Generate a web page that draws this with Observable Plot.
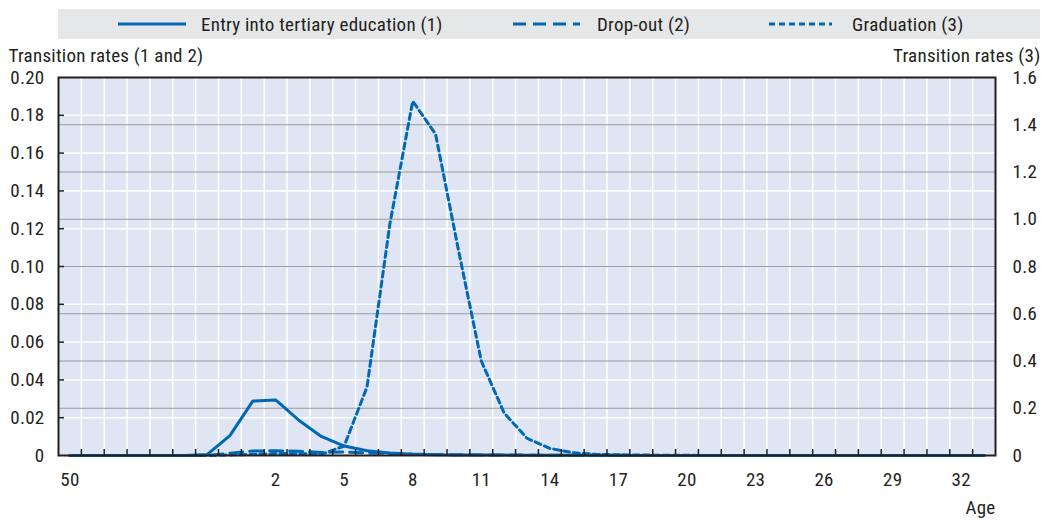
<!DOCTYPE html>
<html>
<head>
<meta charset="utf-8">
<script src="https://cdn.jsdelivr.net/npm/d3@7"></script>
<script src="https://cdn.jsdelivr.net/npm/@observablehq/plot@0.6"></script>
<style>
  body { margin: 0; background: #fff; }
  .font { font-family: "Roboto Condensed", "Liberation Sans Narrow", Roboto, sans-serif; letter-spacing: 0.25px; }
  #legend { position: absolute; left: 58px; top: 9px; width: 982px; height: 30px; background: #e6e7e9; }
  .item { position: absolute; top: 0; height: 30px; display: flex; align-items: center; font-size: 19px; color: #231f20; white-space: nowrap; }
  .swatch { position: absolute; top: 0; }
  #chart { position: absolute; left: 0; top: 40px; }
</style>
</head>
<body>
<div id="legend" class="font"></div>
<div id="chart" class="font"></div>
<script>
// Age categories along the x axis (41 bands); only some carry a label
const tickIndex  = [0, 9, 12, 15, 18, 21, 24, 27, 30, 33, 36, 39];
const tickLabels = ["50", "2", "5", "8", "11", "14", "17", "20", "23", "26", "29", "32"];

// Transition rates, one value per band
const entryRates = [0, 0, 0, 0, 0, 0, 0.0005, 0.0105, 0.0288, 0.0294, 0.0188, 0.0101, 0.005, 0.0025, 0.0013,
  0.0007, 0.0004, 0.0003, 0.0002, 0.0002, 0.0001, 0.0001, 0.0001, 0.0001, 0, 0, 0, 0, 0, 0,
  0, 0, 0, 0, 0, 0, 0, 0, 0, 0, 0];
const dropoutRates = [0, 0, 0, 0, 0, 0, 0, 0.0012, 0.0024, 0.0025, 0.0023, 0.0016, 0.0018, 0.0014, 0.001,
  0.0007, 0.0005, 0.0004, 0.0003, 0.0002, 0.0002, 0.0001, 0.0001, 0.0001, 0.0001, 0, 0, 0, 0, 0,
  0, 0, 0, 0, 0, 0, 0, 0, 0, 0, 0];
const graduationRates = [0, 0, 0, 0, 0, 0, 0, 0.002, 0.005, 0.008, 0.008, 0.005, 0.04, 0.29, 0.98,
  1.50, 1.36, 0.87, 0.40, 0.18, 0.073, 0.03, 0.012, 0.005, 0.003, 0.002, 0.001, 0.001, 0, 0,
  0, 0, 0, 0, 0, 0, 0, 0, 0, 0, 0];

// Axis ticks
const leftTicks  = [0, 0.02, 0.04, 0.06, 0.08, 0.10, 0.12, 0.14, 0.16, 0.18, 0.20];
const rightTicks = [0, 0.2, 0.4, 0.6, 0.8, 1.0, 1.2, 1.4, 1.6];

const BLUE = "#0068b4";
const INK = "#231f20";
const FONT = '"Roboto Condensed", "Liberation Sans Narrow", Roboto, sans-serif';
const RATIO = 0.2 / 1.6; // right axis -> left axis

const series = [
  {name: "Entry into tertiary education (1)", values: entryRates, scale: 1, dash: null},
  {name: "Drop-out (2)", values: dropoutRates, scale: 1, dash: "13,7"},
  {name: "Graduation (3)", values: graduationRates, scale: RATIO, dash: "6,4"}
];

const rows = series.flatMap(s => s.values.map((v, i) => ({series: s.name, i, y: v * s.scale})));

// Band boundaries for grid lines and tick marks
const bands = entryRates.length;
const boundaries = d3.range(0.5, bands - 1, 1);

const W = 1049, H = 480, mT = 37, mB = 65, mL = 58, mR = 54;
const plotW = W - mL - mR, plotH = H - mT - mB;

const chart = Plot.plot({
  width: W, height: H,
  marginTop: mT, marginBottom: mB, marginLeft: mL, marginRight: mR,
  style: {fontFamily: FONT, fontSize: "19px", letterSpacing: "0.25px", color: INK, background: "transparent", overflow: "visible"},
  x: {type: "linear", domain: [-0.5, bands - 0.5]},
  y: {domain: [0, 0.2]},
  marks: [
    Plot.frame({fill: "#dfe5f3"}),
    Plot.ruleX(boundaries, {stroke: "white", strokeWidth: 1.5}),
    Plot.ruleY(leftTicks.slice(1, -1), {stroke: "white", strokeWidth: 1.5}),
    Plot.ruleY(rightTicks.slice(1, -1).map(v => v * RATIO), {stroke: "#9a9a9a", strokeWidth: 1.2}),
    ...series.map(s => Plot.line(rows.filter(r => r.series === s.name), {
      x: "i", y: "y", stroke: BLUE, strokeWidth: 3, strokeDasharray: s.dash, strokeLinejoin: "miter"
    })),
    Plot.frame({stroke: INK, strokeWidth: 2}),
    Plot.ruleX(boundaries, {stroke: INK, strokeWidth: 1.5, insetTop: plotH - 6}),
    Plot.ruleY(leftTicks.slice(1, -1), {stroke: INK, strokeWidth: 1.5, insetRight: plotW - 6}),
    Plot.axisY({anchor: "left", ticks: leftTicks, tickSize: 0, tickPadding: 14, label: null,
      tickFormat: d => d === 0 ? "0" : d.toFixed(2)}),
    Plot.axisY({anchor: "right", ticks: rightTicks.map(v => v * RATIO), tickSize: 0, tickPadding: 17, label: null,
      tickFormat: d => { const v = Math.round(d / RATIO * 10) / 10; return v === 0 ? "0" : v.toFixed(1); }}),
    Plot.axisX({ticks: tickIndex, tickSize: 0, tickPadding: 17, label: null,
      tickFormat: d => tickLabels[tickIndex.indexOf(d)]}),
    Plot.text(["Transition rates (1 and 2)"], {frameAnchor: "top-left", text: d => d, dx: -50, dy: -22, textAnchor: "start", lineAnchor: "middle"}),
    Plot.text(["Transition rates (3)"], {frameAnchor: "top-right", text: d => d, dx: 45, dy: -22, textAnchor: "end", lineAnchor: "middle"}),
    Plot.text(["Age"], {frameAnchor: "bottom-right", text: d => d, dx: 0, dy: 52, textAnchor: "end", lineAnchor: "middle"})
  ]
});
document.getElementById("chart").appendChild(chart);

// Legend
const legend = document.getElementById("legend");
const legendPos = [{swatch: 60, text: 143, len: 68}, {swatch: 455, text: 539, len: 67}, {swatch: 711, text: 794, len: 63}];
series.forEach((s, k) => {
  const p = legendPos[k];
  const sw = document.createElementNS("http://www.w3.org/2000/svg", "svg");
  sw.setAttribute("class", "swatch");
  sw.setAttribute("width", p.len); sw.setAttribute("height", 30);
  sw.style.left = p.swatch + "px";
  const ln = document.createElementNS("http://www.w3.org/2000/svg", "line");
  ln.setAttribute("x1", 0); ln.setAttribute("x2", p.len);
  ln.setAttribute("y1", 15); ln.setAttribute("y2", 15);
  ln.setAttribute("stroke", BLUE); ln.setAttribute("stroke-width", 3);
  if (s.dash) ln.setAttribute("stroke-dasharray", s.dash);
  sw.appendChild(ln);
  legend.appendChild(sw);
  const t = document.createElement("div");
  t.className = "item";
  t.style.left = p.text + "px";
  t.textContent = s.name;
  legend.appendChild(t);
});
</script>
</body>
</html>
